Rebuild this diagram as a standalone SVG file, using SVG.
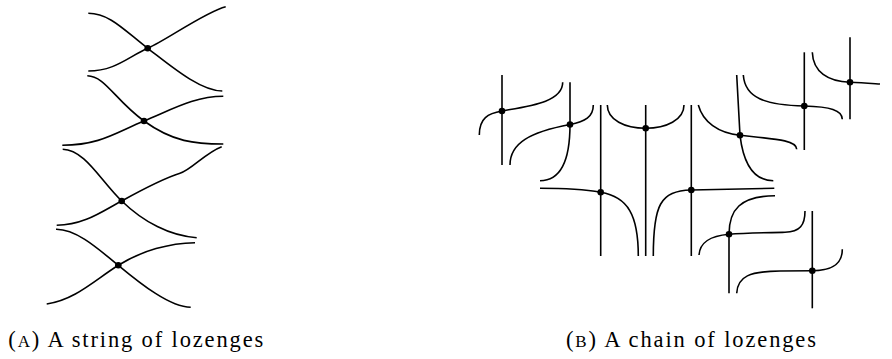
<svg xmlns="http://www.w3.org/2000/svg" width="892" height="359" viewBox="0 0 892 359">
<style>
.c{fill:none;stroke:#000;stroke-width:1.6;stroke-linecap:butt}
.d{fill:#000}
.cap{font-family:"Liberation Serif","DejaVu Serif",serif;font-size:22.5px;fill:#000}
.sc{font-size:17px}
</style>
<rect width="892" height="359" fill="#fff"/>
<g id="connectors">
  <g id="strands-a">
    <path class="c" d="M88.3,13.3 C110,13.3 125,31 147.7,48.3 S200,91 222.3,91"/>
    <path class="c" d="M88.3,71 C115,71 128,57 147.7,48.3 S205,12 225.7,6.7"/>
    <path class="c" d="M87.3,75.7 C105,76 115,100 144,121 S195,144 223.3,144"/>
    <path class="c" d="M62.3,145.3 C100,145 115,133 144,121 S195,96.3 223.3,96.3"/>
    <path class="c" d="M62.7,149.3 C85,150 100,180 121.7,201 S170,236 196.7,237.7"/>
    <path class="c" d="M56.7,225.3 C85,225 104,210 121.7,201 C138,192 165,178 180,173.3 C192,169.5 205,153 221.7,146.7"/>
    <path class="c" d="M56,229.3 C75,229 95,246 118.3,265.3 S170,307 190.7,307.3"/>
    <path class="c" d="M46.7,304 C75,300 95,280 118.3,265.3 S170,243 195,242.7"/>
  </g>
  <g id="strands-b">
    <path class="c" d="M502,75 L502,165"/>
    <path class="c" d="M479.3,135 C479.3,118 488,113.5 502,111 C530,106 562.7,102 562.7,82.3"/>
    <path class="c" d="M570,82.3 L570,124.5 C570,155 564,180.7 540,180.7"/>
    <path class="c" d="M510,165 C510,143 530,132 570,124.5 C585,121.7 593.3,117 593.3,105"/>
    <path class="c" d="M600.7,105 L600.7,256"/>
    <path class="c" d="M540,188.3 C565,188.3 585,189.5 600.7,192.3 C628,197 638.3,215 638.3,256"/>
    <path class="c" d="M645.7,105 L645.7,256"/>
    <path class="c" d="M607.3,105 C607.3,120 625,128.3 645.7,128.3 C666,128.3 684,120 684,105"/>
    <path class="c" d="M691.3,105 L691.3,256"/>
    <path class="c" d="M653.3,256 C653.3,205 660,191 691.3,190 L774.3,188.3"/>
    <path class="c" d="M736.7,75 L740,135.3 C743,160 752,180.7 773.3,180.7"/>
    <path class="c" d="M698.3,105 C703,122 718,133 740,135.3 C775,139 796.7,140 796.7,149.3"/>
    <path class="c" d="M804.3,52.3 L804.3,150"/>
    <path class="c" d="M743.3,75 C745,98 765,105 804.3,106 C830,106.7 842.3,110 842.3,119.3"/>
    <path class="c" d="M850,37.3 L850,119.3"/>
    <path class="c" d="M812.3,52.3 C813,72 828,81.5 850,82.3 C862,82.8 872,83.5 880,84"/>
    <path class="c" d="M729,293.3 L729,234.3 C729,210 740,196 775,195.7"/>
    <path class="c" d="M699,255 C700,242 710,236 729,234.3 C745,233 775,232.5 785,232.3 C800,232 805,225 805,211"/>
    <path class="c" d="M812.3,211 L812.3,308.3"/>
    <path class="c" d="M736.7,293.3 C737.5,276 750,271.5 780,271 L812.3,270.7 C834,270.5 842.3,263 842.3,249.3"/>
  </g>
</g>
<g id="n-a1"><circle class="d" cx="147.7" cy="48.3" r="3.3"/></g>
<g id="n-a2"><circle class="d" cx="144" cy="121" r="3.3"/></g>
<g id="n-a3"><circle class="d" cx="121.7" cy="201" r="3.3"/></g>
<g id="n-a4"><circle class="d" cx="118.3" cy="265.3" r="3.3"/></g>
<g id="n-b1"><circle class="d" cx="502" cy="111" r="3.3"/></g>
<g id="n-b2"><circle class="d" cx="570" cy="124.5" r="3.3"/></g>
<g id="n-b3"><circle class="d" cx="600.7" cy="192.3" r="3.3"/></g>
<g id="n-b4"><circle class="d" cx="645.7" cy="128.3" r="3.3"/></g>
<g id="n-b5"><circle class="d" cx="691.3" cy="190" r="3.3"/></g>
<g id="n-b6"><circle class="d" cx="740" cy="135.3" r="3.3"/></g>
<g id="n-b7"><circle class="d" cx="804.3" cy="106" r="3.3"/></g>
<g id="n-b8"><circle class="d" cx="850" cy="82.3" r="3.3"/></g>
<g id="n-b9"><circle class="d" cx="729" cy="234.3" r="3.3"/></g>
<g id="n-b10"><circle class="d" cx="812.3" cy="270.7" r="3.3"/></g>
<g id="captions">
  <text class="cap" x="8.3" y="347.3" textLength="255" lengthAdjust="spacing">(<tspan class="sc">A</tspan>) A string of lozenges</text>
  <text class="cap" x="566" y="347.3" textLength="250" lengthAdjust="spacing">(<tspan class="sc">B</tspan>) A chain of lozenges</text>
</g>
</svg>
